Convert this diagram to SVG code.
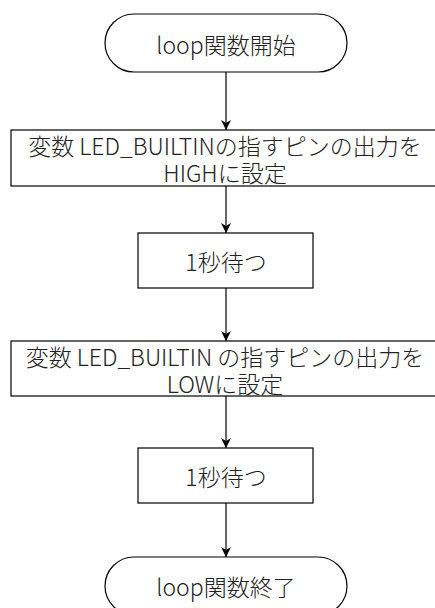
<svg xmlns="http://www.w3.org/2000/svg" width="435" height="608" viewBox="0 0 435 608">
<defs>
<marker id="arr" viewBox="0 0 10 10" refX="10" refY="5" markerWidth="10" markerHeight="10" markerUnits="userSpaceOnUse" orient="auto">
<path d="M0,0 L10,5 L0,10 L3,5 Z" fill="#000"/>
</marker>
<style>
.s{fill:#fff;stroke:#000;stroke-width:1.2}
.t{font-family:"Noto Sans CJK JP","Noto Sans",sans-serif;font-size:23px;font-weight:300;fill:#222;text-anchor:middle;dominant-baseline:central}
.c{stroke:#000;stroke-width:1.2;fill:none;marker-end:url(#arr)}
</style>
</defs>
<rect width="435" height="608" fill="#fff"/>
<g id="connectors">
<line class="c" x1="226" y1="72" x2="226" y2="130"/>
<line class="c" x1="226" y1="186" x2="226" y2="233"/>
<line class="c" x1="226" y1="288" x2="226" y2="341"/>
<line class="c" x1="226" y1="396" x2="226" y2="448"/>
<line class="c" x1="226" y1="503" x2="226" y2="557"/>
</g>
<g id="start">
<rect class="s" x="105" y="14" width="242" height="58" rx="29" ry="29"/>
<text class="t" x="226" y="44">loop関数開始</text>
</g>
<g id="high">
<rect class="s" x="11" y="130" width="430" height="56"/>
<text class="t" x="225" y="145">変数 LED_BUILTINの指すピンの出力を</text>
<text class="t" x="225" y="172">HIGHに設定</text>
</g>
<g id="wait1">
<rect class="s" x="138" y="233" width="175" height="55"/>
<text class="t" x="226" y="261">1秒待つ</text>
</g>
<g id="low">
<rect class="s" x="11" y="341" width="430" height="55"/>
<text class="t" x="225" y="356">変数 LED_BUILTIN の指すピンの出力を</text>
<text class="t" x="225" y="383">LOWに設定</text>
</g>
<g id="wait2">
<rect class="s" x="138" y="448" width="175" height="55"/>
<text class="t" x="226" y="476">1秒待つ</text>
</g>
<g id="end">
<rect class="s" x="105" y="557" width="242" height="58" rx="29" ry="29"/>
<text class="t" x="226" y="586">loop関数終了</text>
</g>
</svg>
